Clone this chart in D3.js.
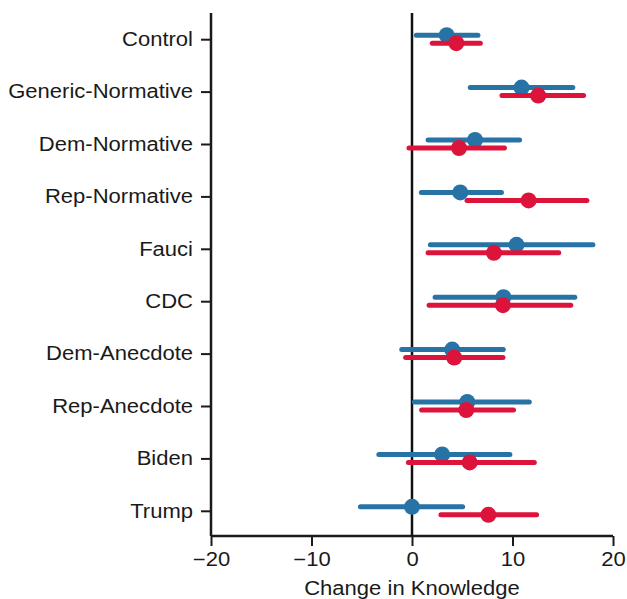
<!DOCTYPE html>
<html>
<head>
<meta charset="utf-8">
<script src="https://cdn.jsdelivr.net/npm/d3@7"></script>
<style>
  body { margin: 0; background: #fff; }
  text { font-family: "Liberation Sans", Arial, sans-serif; fill: #1a1a1a; }
</style>
</head>
<body>
<div id="viz"></div>
<script>
// treatment groups, top to bottom
var categories = ["Control", "Generic-Normative", "Dem-Normative", "Rep-Normative", "Fauci",
                  "CDC", "Dem-Anecdote", "Rep-Anecdote", "Biden", "Trump"];

// blue series: estimate, lower, upper
var blueEst = [3.45, 10.9, 6.27, 4.8, 10.4, 9.1, 4.0, 5.5, 3.0, 0.0];
var blueLo  = [0.43, 5.8, 1.6, 0.93, 1.83, 2.3, -1.02, 0.23, -3.3, -5.13];
var blueHi  = [6.56, 16.0, 10.7, 8.9, 18.0, 16.2, 9.08, 11.67, 9.74, 5.04];

// red series: estimate, lower, upper
var redEst = [4.41, 12.56, 4.68, 11.6, 8.15, 9.05, 4.2, 5.4, 5.74, 7.6];
var redLo  = [2.02, 8.95, -0.3, 5.47, 1.6, 1.7, -0.63, 0.96, -0.36, 2.88];
var redHi  = [6.8, 17.07, 9.2, 17.4, 14.6, 15.8, 9.05, 10.1, 12.17, 12.4];

var xTicks = [-20, -10, 0, 10, 20];

var W = 627, H = 599;
var stretch = 1.13; // text in the picture is a bit wider than plain Arial

var svg = d3.select("#viz")
        .append("svg")
        .attr("width", W)
        .attr("height", H);

var x = d3.scaleLinear().domain([-20, 20]).range([211, 613]);
var y = d3.scalePoint().domain(categories).range([13, 537]).padding(0.5);

function series(est, lo, hi) {
    return categories.map(function(c, i) {
        return {cat: c, est: est[i], lo: lo[i], hi: hi[i]};
    });
}

var groups = [
    {color: "#2873a6", off: -4, rows: series(blueEst, blueLo, blueHi)},
    {color: "#dc143c", off: 4, rows: series(redEst, redLo, redHi)}
];

// axes
var xAxis = svg.append("g")
    .attr("transform", "translate(0,536)")
    .call(d3.axisBottom(x).tickValues(xTicks).tickSize(10).tickPadding(6)
        .tickFormat(function(d) { return d < 0 ? "\u2212" + Math.abs(d) : d; }));

var yAxis = svg.append("g")
    .attr("transform", "translate(211,0)")
    .call(d3.axisLeft(y).tickSize(10).tickPadding(8));

[xAxis, yAxis].forEach(function(a) {
    a.select(".domain").attr("stroke", "#1a1a1a").attr("stroke-width", 2.5);
    a.selectAll(".tick line").attr("stroke", "#1a1a1a").attr("stroke-width", 2);
    a.selectAll(".tick text")
        .style("font-size", "19.5px")
        .attr("fill", "#1a1a1a");
});
xAxis.select(".domain").attr("d", "M211,0H613");
yAxis.select(".domain").attr("d", "M0,13V536");

// widen the labels a bit
yAxis.selectAll(".tick text")
    .attr("x", -18 / stretch)
    .attr("transform", "scale(" + stretch + ",1)");
xAxis.selectAll(".tick text")
    .attr("transform", "scale(" + stretch + ",1)");

svg.append("text")
    .attr("x", 412 / stretch)
    .attr("y", 595)
    .attr("text-anchor", "middle")
    .attr("transform", "scale(" + stretch + ",1)")
    .style("font-size", "19.5px")
    .text("Change in Knowledge");

// zero line
svg.append("line")
    .attr("x1", x(0)).attr("x2", x(0))
    .attr("y1", 13).attr("y2", 536)
    .attr("stroke", "#111")
    .attr("stroke-width", 2.5);

groups.forEach(function(g) {
    var layer = svg.append("g");
    layer.selectAll("line")
        .data(g.rows)
        .enter()
        .append("line")
        .attr("x1", function(d) { return x(d.lo); })
        .attr("x2", function(d) { return x(d.hi); })
        .attr("y1", function(d) { return y(d.cat) + g.off; })
        .attr("y2", function(d) { return y(d.cat) + g.off; })
        .attr("stroke", g.color)
        .attr("stroke-width", 5)
        .attr("stroke-linecap", "round");
    layer.selectAll("circle")
        .data(g.rows)
        .enter()
        .append("circle")
        .attr("cx", function(d) { return x(d.est); })
        .attr("cy", function(d) { return y(d.cat) + g.off; })
        .attr("r", 8)
        .attr("fill", g.color);
});
</script>
</body>
</html>
